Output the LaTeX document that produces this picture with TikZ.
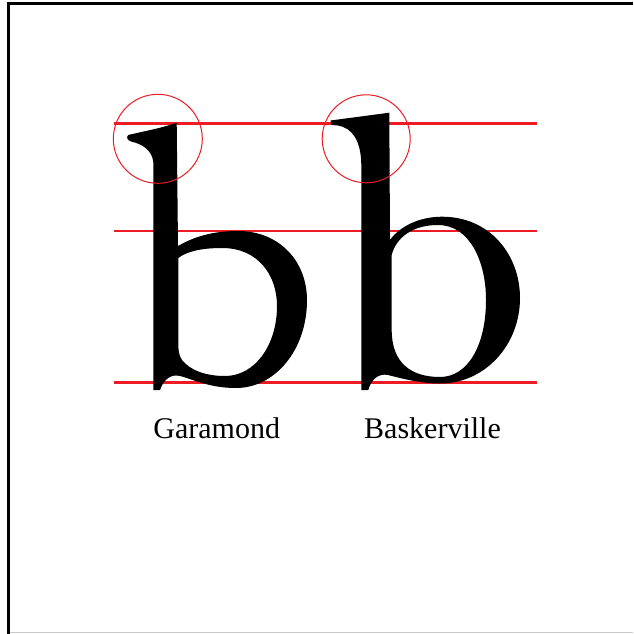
\documentclass[tikz,border=0pt]{standalone}
\usepackage{fontspec}
\setmainfont{Liberation Serif}
\usepackage{xcolor}
\usepackage{tikz}
\usetikzlibrary{calc,positioning}
\definecolor{guidered}{RGB}{237,28,36}
\def\specfont{\fontsize{30}{36}\selectfont}

\begin{document}
\begin{tikzpicture}[x=1pt,y=-1pt,
  guide/.style={guidered,line width=2.5pt},
  serifmark/.style={guidered,line width=1pt},
  glyph/.style={fill=black,even odd rule},
  caption/.style={anchor=base,inner sep=0pt,font=\specfont}]

\useasboundingbox (0,0) rectangle (633,634);
\fill[white] (0,0) rectangle (633,634);

\draw [line width=3pt] (8.8,634) -- (8.8,3.8) -- (633,3.8);
\draw [black!22, line width=1pt] (10.3,632.8) -- (633,632.8);

\foreach\yy in {123.3,231,382.5}
  \draw [guide] (114,\yy) -- (537,\yy);

% Garamond
\fill[glyph]
  (176.7,122.7) -- (178,246)
  .. controls (192,238) and (210,231) .. (238,231)
  .. controls (280,231) and (307,262) .. (307,300)
  .. controls (307,350) and (275,388) .. (236,388)
  .. controls (210,388) and (195,380) .. (180,376)
  .. controls (172,374) and (164,378) .. (160,390)
  -- (153.3,390) -- (153.3,162)
  .. controls (152,150) and (142,144) .. (131.7,141.7)
  .. controls (127,140.5) and (126,137) .. (128.3,135)
  .. controls (145,131) and (162,128) .. (176.7,122.7) -- cycle
  (178.3,258)
  .. controls (186,252) and (200,248) .. (222,248)
  .. controls (258,248) and (277,275) .. (277,306)
  .. controls (277,345) and (255,376) .. (225,376)
  .. controls (205,376) and (190,370) .. (182,360)
  .. controls (178.5,355) and (178.3,350) .. (178.3,340) -- cycle;

% Baskerville
\fill[glyph]
  (389.3,112.7) -- (390,240)
  .. controls (400,226) and (420,216.7) .. (442,216.7)
  .. controls (490,216.7) and (520,255) .. (520,298)
  .. controls (520,345) and (485,383.5) .. (440,383.5)
  .. controls (420,383.5) and (400,378) .. (388,375)
  .. controls (378,373) and (371,380) .. (368.3,390)
  -- (361.3,390) -- (361.3,165)
  .. controls (361,140) and (352,128) .. (338,125.5)
  -- (331.5,125) -- (330.5,120.5) -- cycle
  (391.7,255)
  .. controls (396,238) and (412,225) .. (438,225)
  .. controls (470,225) and (486,262) .. (486,300)
  .. controls (486,345) and (468,377) .. (440,377)
  .. controls (410,377) and (391.7,362) .. (391.7,330) -- cycle;

\draw [serifmark] (157.8,138.8) circle (44.5);
\draw [serifmark] (366.2,138.8) circle (44);

\node [caption] (garamond) at (216.7,438.3) {Garamond};
\node [caption] (baskerville) at (432.5,438.3) {Baskerville};

\end{tikzpicture}
\end{document}
